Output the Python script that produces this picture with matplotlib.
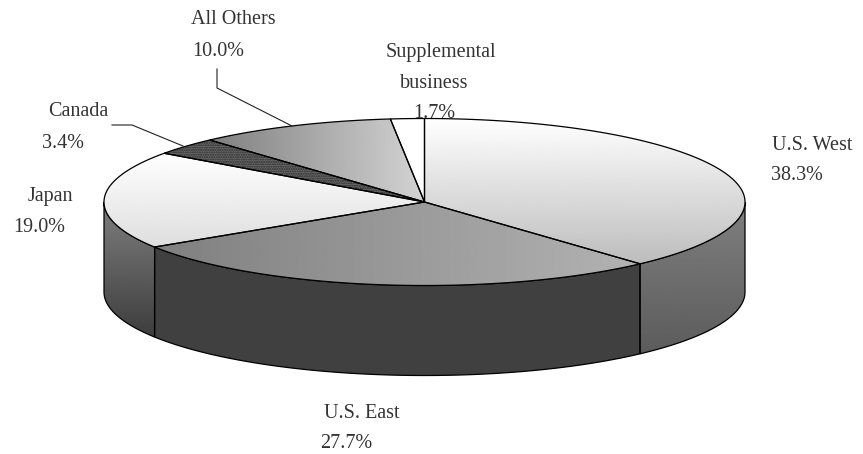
import numpy as np
import matplotlib
matplotlib.use('Agg')
import matplotlib.pyplot as plt
from matplotlib.patches import Polygon

# segments, clockwise from 12 o'clock
labels = ['U.S. West', 'U.S. East', 'Japan', 'Canada', 'All Others', 'Supplemental\nbusiness']
shares = [38.3, 27.7, 19.0, 3.4, 10.0, 1.7]

cx, cy = 424.5, 202
rx, ry = 320.5, 83.5
depth = 90

# (kind, start grey, end grey) of the top faces
top_fill = [('v', 1.0, 0.74), ('h', 0.50, 0.70), ('v', 1.0, 0.87),
            ('hatch', 0.42, 0.42), ('h', 0.50, 0.83), ('flat', 1.0, 1.0)]
side_fill = [('v', 0.50, 0.36), ('flat', 0.25, 0.25), ('v', 0.50, 0.24)]

# centre x, centre y of every text line: name lines first, then the percentage
name_pos = [[(812, 145)], [(362, 414)], [(50, 196)], [(78, 112)], [(233, 20)],
            [(441, 52), (434, 84)]]
pct_pos = [(797, 175), (346, 444), (39, 227), (63, 143), (218, 52), (434, 114)]

plt.rcParams['font.family'] = ['Liberation Serif', 'DejaVu Serif']

fig = plt.figure(figsize=(8.63, 4.54), dpi=100)
ax = fig.add_axes([0, 0, 1, 1])


def arc(a0, a1, dy=0):
    t = np.radians(np.linspace(a0, a1, 200))
    return np.column_stack([cx + rx * np.sin(t), cy - ry * np.cos(t) + dy])


def paint(pts, fill, z):
    kind, g0, g1 = fill
    if kind == 'flat':
        ax.add_patch(Polygon(pts, closed=True, fc=str(g0), ec='none', zorder=z))
        return
    if kind == 'hatch':
        ax.add_patch(Polygon(pts, closed=True, fc=str(g0), ec='#2a2a2a', hatch='.......', lw=0, zorder=z))
        return
    grad = np.linspace(g0, g1, 256)
    grad = grad[:, None] if kind == 'v' else grad[None, :]
    x0, y0 = pts.min(axis=0)
    x1, y1 = pts.max(axis=0)
    im = ax.imshow(grad, cmap='gray', vmin=0, vmax=1, aspect='auto',
                   extent=(x0, x1, y1, y0), zorder=z)
    im.set_clip_path(Polygon(pts, closed=True, transform=ax.transData))


edges = np.concatenate([[0], np.cumsum(shares)]) / sum(shares) * 360

# side walls, only the front half of the rim shows
side_no = 0
for i in range(len(shares)):
    a0, a1 = max(edges[i], 90), min(edges[i + 1], 270)
    if a0 >= a1:
        continue
    top = arc(a0, a1)
    bottom = arc(a0, a1, depth)[::-1]
    pts = np.vstack([top, bottom])
    paint(pts, side_fill[side_no], 1)
    ax.add_patch(Polygon(pts, closed=True, fc='none', ec='black', lw=0.9, zorder=2))
    side_no += 1

# top faces
for i in range(len(shares)):
    pts = np.vstack([[cx, cy], arc(edges[i], edges[i + 1])])
    paint(pts, top_fill[i], 3)
    ax.add_patch(Polygon(pts, closed=True, fc='none', ec='black', lw=0.9, zorder=4))

# leader lines
ax.plot([217, 217, 292], [69, 88, 126], color='#222222', lw=0.8, zorder=5)
ax.plot([112, 132, 183], [125, 125, 146], color='#222222', lw=0.8, zorder=5)

for name, share, spots, spot in zip(labels, shares, name_pos, pct_pos):
    for line, (x, y) in zip(name.split('\n'), spots):
        ax.text(x, y, line, ha='center', va='center', fontsize=14.5, color='#333333', zorder=6)
    ax.text(spot[0], spot[1], '%.1f%%' % share, ha='center', va='center', fontsize=14.5,
            color='#333333', zorder=6)

ax.set_xlim(0, 863)
ax.set_ylim(454, 0)
ax.axis('off')
fig.savefig('out.png', dpi=100)
